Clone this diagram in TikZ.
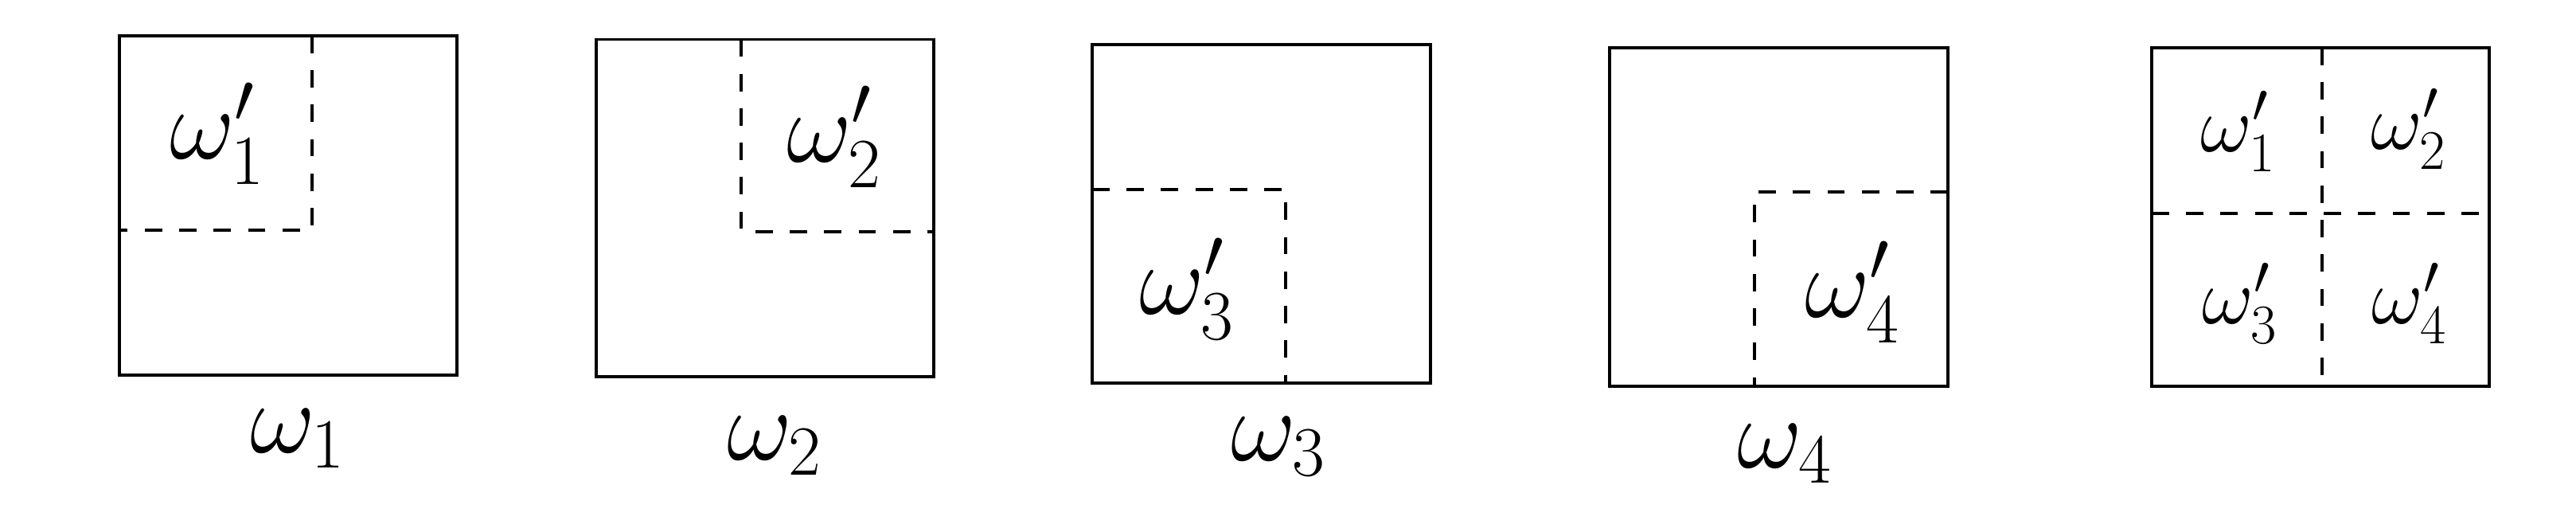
\RequirePackage{fix-cm}
\documentclass[tikz,border=0pt]{standalone}
\usepackage{amsmath}
\usepackage{tikz}
\usetikzlibrary{positioning}
\tikzset{
    frame/.style     ={draw=black, line width=0.95pt},
    split/.style     ={draw=black, line width=0.95pt, dash pattern=on 6.2pt off 6.1pt},
    biglabel/.style  ={inner sep=0pt, font=\fontsize{36}{42}\selectfont},
    smalllabel/.style={inner sep=0pt, font=\fontsize{28.5}{34}\selectfont},
}

\begin{document}
\begin{tikzpicture}
                \useasboundingbox (0,0) rectangle (32.36,-6.68);
                % one part of the window each
                \draw[frame](1.50,-0.45) rectangle (5.74,-4.71);
                \draw[split](3.92,-0.45)--(3.92,-2.89)--(1.50,-2.89);
                \node[biglabel](p1) at (2.73,-1.68){$\omega'_1$};
                \node[biglabel](w1) at (3.74,-5.51){$\omega_1$};

                \draw[frame](7.49,-0.495) rectangle (11.73,-4.73);
                \draw[split](9.31,-0.495)--(9.31,-2.91)--(11.73,-2.91);
                \node[biglabel](p2) at (10.48,-1.72){$\omega'_2$};
                \node[biglabel](w2) at (9.73,-5.60){$\omega_2$};

                \draw[frame](13.72,-0.56) rectangle (17.97,-4.81);
                \draw[split](13.72,-2.38)--(16.15,-2.38)--(16.15,-4.81);
                \node[biglabel](p3) at (14.91,-3.63){$\omega'_3$};
                \node[biglabel](w3) at (16.06,-5.61){$\omega_3$};

                \draw[frame](20.22,-0.60) rectangle (24.47,-4.85);
                \draw[split](24.47,-2.41)--(22.04,-2.41)--(22.04,-4.85);
                \node[biglabel](p4) at (23.27,-3.67){$\omega'_4$};
                \node[biglabel](w4) at (22.42,-5.70){$\omega_4$};

                % all four together
                \draw[frame](27.03,-0.60) rectangle (31.27,-4.85);
                \draw[split](29.17,-0.60)--(29.17,-4.85);
                \draw[split](27.03,-2.68)--(31.27,-2.68);
                \node[smalllabel](q1) at (28.12,-1.65){$\omega'_1$};
                \node[smalllabel](q2) at (30.26,-1.62){$\omega'_2$};
                \node[smalllabel](q3) at (28.14,-3.81){$\omega'_3$};
                \node[smalllabel](q4) at (30.27,-3.81){$\omega'_4$};
            \end{tikzpicture}
\end{document}
